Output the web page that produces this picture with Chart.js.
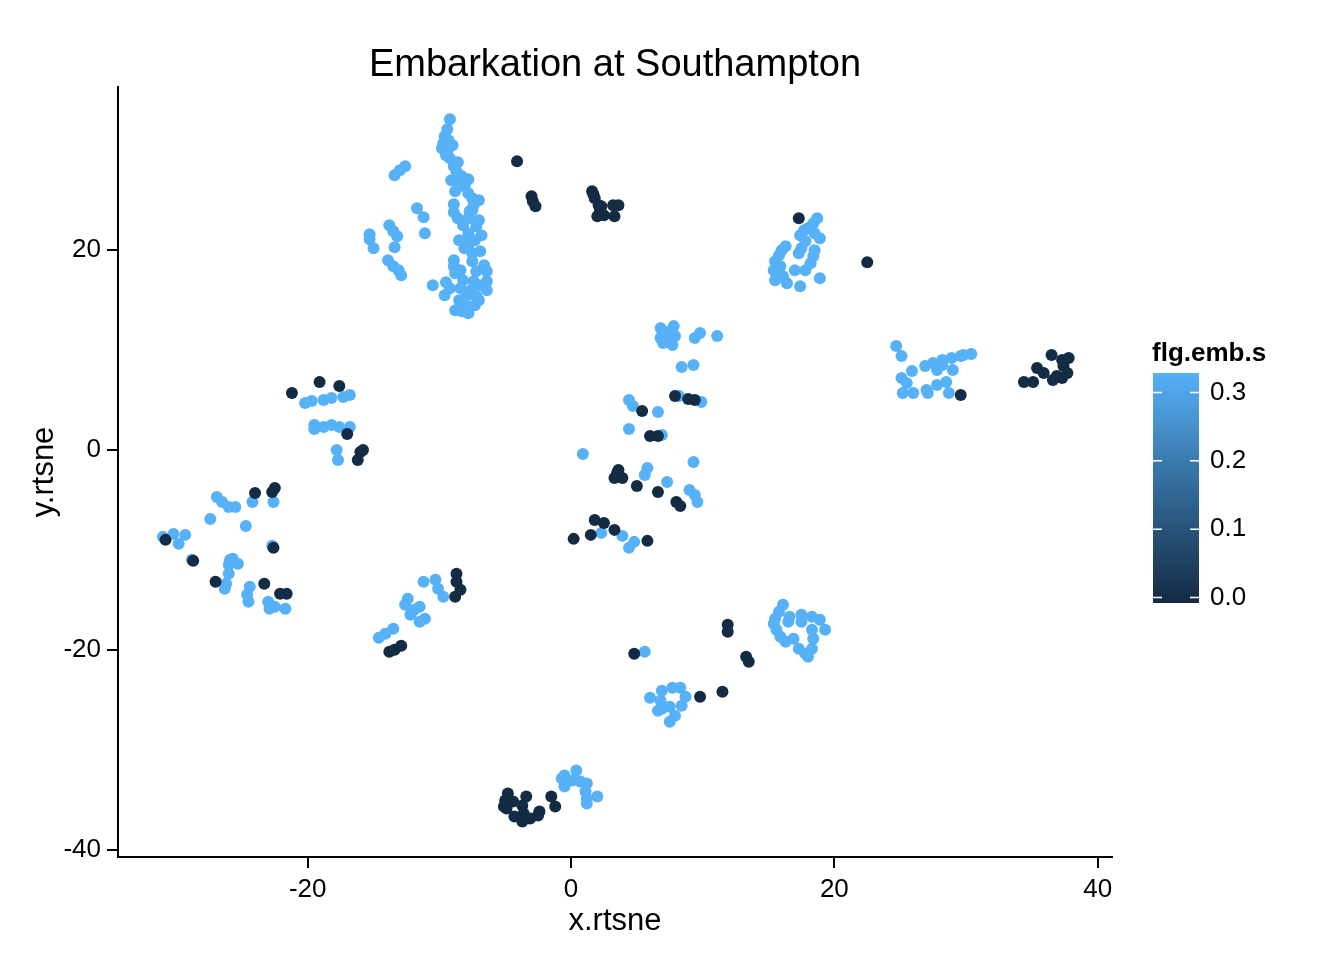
<!DOCTYPE html>
<html>
<head>
<meta charset="utf-8">
<title>Embarkation at Southampton</title>
<script src="https://cdn.jsdelivr.net/npm/chart.js@4.4.1/dist/chart.umd.min.js"></script>
<style>
  html, body { margin: 0; padding: 0; background: #fff; }
  #wrap { width: 1344px; height: 960px; }
</style>
</head>
<body>
<div id="wrap"><canvas id="tsne" width="1344" height="960"></canvas></div>
<script>
// --- Data ---

const titleText = "Embarkation at Southampton";
const xTitle = "x.rtsne";
const yTitle = "y.rtsne";
const legendTitle = "flg.emb.s";

const xTicks = [-20, 0, 20, 40];
const yTicks = [-40, -20, 0, 20];
const legendTicks = [0.0, 0.1, 0.2, 0.3];

// flg.emb.s for the two groups of points
const lowValue = 0.0;
const highValue = 0.33;

// points with flg.emb.s = high (light blue)
const lightPts = [
  [-9.2,33.1],[-9.4,32.1],[-9.6,31.4],[-9.7,30.7],[-9.4,29.9],[-9.2,29.2],[-8.9,28.4],[-8.7,27.9],
  [-8.3,27.4],[-7.8,27.1],[-8.1,26.4],[-8.8,25.9],[-7.8,25.7],[-7.5,25.2],[-7.4,24.5],[-7.7,23.9],
  [-7.8,23.2],[-8.2,22.5],[-7.2,22.4],[-7.8,21.7],[-7.7,20.9],[-8.1,20.2],[-6.9,19.9],[-7.5,19.7],
  [-7.5,18.9],[-8.9,19.0],[-8.9,18.4],[-8.8,17.7],[-7.2,17.9],[-6.4,17.9],[-8.2,17.0],[-7.4,16.9],
  [-6.4,16.9],[-6.4,16.0],[-9.2,16.2],[-9.6,15.5],[-8.4,16.2],[-7.9,15.5],[-7.2,15.4],[-8.1,14.7],
  [-7.3,14.5],[-8.8,14.0],[-7.8,13.7],[-9.0,30.5],[-9.3,31.0],[-8.6,28.8],[-8.0,26.8],[-7.5,24.0],
  [-7.3,21.0],[-7.8,20.5],[-6.9,16.5],[-7.6,16.0],[-8.5,15.0],[-9.8,30.2],[-9.5,29.5],
  [-6.8,21.5],[-7.0,23.0],[-8.5,21.0],[-6.6,18.5],[-8.4,18.0],[-9.5,16.8],[-7.0,15.0],[-8.3,13.9],
  [-8.6,23.2],[-7.0,25.0],[-8.5,26.5],[-9.1,27.0],
  [-8.9,24.6],[-8.9,23.8],[-11.1,21.7],[-11.7,24.2],[-11.2,23.3],[-12.6,28.4],[-13.0,28.0],[-13.4,27.5],
  [-13.8,22.5],[-13.5,21.9],[-13.2,21.4],[-13.4,20.3],[-15.3,21.6],[-15.3,21.1],[-15.0,20.2],
  [-13.9,19.0],[-13.5,18.4],[-13.1,18.0],[-12.9,17.5],[-10.5,16.5],
  [18.7,23.2],[18.4,22.7],[18.0,22.2],[17.7,22.0],[17.4,21.5],[18.5,21.7],[18.9,21.2],[17.8,20.9],
  [17.5,20.2],[17.3,19.7],[18.5,20.0],[18.4,19.4],[18.2,18.7],[17.8,18.0],[17.0,18.0],[16.0,20.0],
  [15.8,19.5],[15.5,18.9],[15.4,18.0],[15.5,17.0],[16.1,17.4],[16.4,16.7],[15.9,18.4],[17.4,16.4],
  [18.9,17.2],[16.3,20.4],[15.6,17.5],
  [24.7,10.4],[25.1,9.4],[25.9,7.9],[25.1,7.2],[25.5,6.7],[25.2,5.7],[26.0,5.7],[26.9,8.4],
  [27.5,8.7],[28.2,9.0],[28.9,9.2],[29.6,9.4],[30.4,9.6],[29.8,9.5],[27.8,8.0],[29.0,8.0],
  [27.0,6.0],[27.8,6.5],[28.5,6.8],[27.1,5.7],[28.7,5.7],[28.2,8.5],
  [-20.2,4.7],[-19.7,4.9],[-18.8,5.0],[-18.2,5.2],[-17.3,5.3],[-16.8,5.5],[-19.5,2.5],[-19.5,2.1],
  [-18.8,2.3],[-18.2,2.5],[-17.6,2.3],[-16.8,2.3],[-17.8,0.0],[-17.7,-1.0],
  [-26.9,-4.7],[-26.5,-5.2],[-26.0,-5.7],[-25.5,-5.7],[-24.2,-5.2],[-22.6,-5.2],[-27.4,-6.9],[-24.7,-7.6],
  [-22.7,-9.6],[-31.0,-8.7],[-30.2,-8.4],[-29.3,-8.5],[-29.8,-9.4],[-28.8,-11.0],[-25.7,-10.9],[-25.3,-11.4],
  [-26.0,-11.5],[-26.0,-12.4],[-26.2,-13.4],[-26.3,-13.9],[-24.4,-13.7],[-24.6,-14.5],[-24.5,-15.2],
  [-23.0,-15.2],[-22.5,-15.7],[-21.7,-15.9],[-22.9,-15.9],[-25.9,-11.0],
  [-11.2,-13.2],[-10.3,-13.0],[-10.1,-13.9],[-9.7,-14.7],[-12.4,-14.9],[-12.6,-15.5],[-11.9,-16.0],
  [-11.5,-15.7],[-11.1,-16.9],[-11.5,-17.2],[-12.2,-16.5],[-13.5,-17.9],[-14.1,-18.4],[-14.6,-18.8],
  [6.8,12.2],[7.8,12.4],[6.8,11.2],[7.5,11.5],[7.0,10.7],[7.7,10.5],[7.9,11.4],[7.2,11.8],
  [9.4,11.2],[9.8,11.7],[11.1,11.4],[8.4,8.3],[9.3,8.5],[4.4,5.0],[4.7,4.4],[8.2,5.4],
  [9.9,4.8],[6.6,3.8],[4.4,2.1],[6.9,1.5],[0.9,-0.4],[9.3,-1.2],[5.8,-1.8],[5.6,-2.5],
  [7.3,-3.2],[9.0,-4.0],[9.4,-4.5],[9.6,-5.2],[2.3,-8.3],[3.9,-8.6],[4.8,-9.2],[4.4,-9.8],
  [5.6,-20.2],[6.0,-24.8],[6.9,-24.1],[7.7,-23.8],[8.3,-23.8],[8.7,-24.7],[8.4,-25.6],[6.8,-25.1],
  [6.9,-25.9],[7.5,-25.7],[7.9,-26.6],[7.5,-27.2],[6.6,-26.1],
  [16.1,-15.5],[15.8,-16.2],[15.5,-16.9],[15.4,-17.4],[15.6,-18.0],[15.9,-18.7],[16.3,-19.2],[16.5,-17.2],
  [16.9,-18.9],[17.3,-19.9],[17.8,-20.4],[18.0,-20.7],[18.3,-19.9],[18.4,-18.9],[18.3,-18.0],[17.5,-16.5],
  [17.5,-17.2],[18.3,-16.7],[18.9,-17.0],[19.3,-18.0],[16.6,-16.7],
  [-0.5,-32.6],[0.4,-32.1],[0.1,-33.1],[-0.5,-33.7],[0.7,-33.2],[1.2,-33.4],[1.1,-34.2],[1.2,-34.9],
  [1.2,-35.4],[2.0,-34.7],[-0.7,-32.9]
];

// points with flg.emb.s = 0 (dark navy)
const darkPts = [
  [-4.1,28.9],[-3.0,25.4],[-2.9,24.9],[-2.7,24.4],[1.6,25.9],[1.8,25.2],[2.1,24.5],[2.2,23.9],
  [2.0,23.4],[2.5,23.5],[3.2,24.5],[3.6,24.5],[3.3,23.4],[1.7,25.6],[2.3,24.4],
  [17.3,23.2],[22.5,18.8],
  [29.6,5.5],[34.4,6.8],[35.1,6.8],[35.4,8.2],[35.9,7.7],[36.5,9.5],[37.3,9.0],[37.8,9.2],
  [37.4,8.4],[37.7,7.7],[36.9,7.4],[36.6,7.0],[37.3,7.2],
  [-21.2,5.7],[-19.1,6.8],[-17.6,6.4],[-17.0,1.6],[-16.0,-0.2],[-16.2,-1.0],[-15.8,0.0],
  [-24.0,-4.3],[-22.5,-3.8],[-22.7,-4.2],[-30.8,-9.0],[-28.7,-11.1],[-27.0,-13.2],[-23.3,-13.4],
  [-22.1,-14.4],[-21.6,-14.4],[-22.6,-9.8],
  [-8.7,-12.4],[-8.7,-13.2],[-8.4,-14.0],[-8.8,-14.7],[-13.8,-20.2],[-13.4,-20.0],[-12.9,-19.6],
  [7.9,5.4],[8.9,5.1],[9.4,5.0],[5.4,3.9],[6.0,1.4],[6.6,1.4],[3.6,-2.0],[3.3,-2.8],
  [3.9,-2.8],[3.5,-2.3],[5.0,-3.6],[6.6,-4.2],[8.0,-5.2],[8.3,-5.6],[1.8,-7.0],[2.5,-7.3],
  [1.5,-8.5],[3.3,-8.0],[0.2,-8.9],[5.8,-9.1],
  [4.8,-20.4],[11.9,-17.5],[11.9,-18.2],[13.3,-20.7],[13.5,-21.2],[9.8,-24.7],[11.5,-24.2],
  [-4.8,-34.4],[-5.0,-35.1],[-4.9,-35.9],[-4.4,-35.2],[-3.7,-35.6],[-3.4,-34.7],[-3.6,-36.4],
  [-3.7,-37.2],[-3.1,-36.9],[-2.5,-36.6],[-2.4,-36.2],[-1.5,-34.7],[-1.2,-35.7],[-5.1,-35.7],[-4.3,-36.7]
];

// --- Styling ---

const FONT = '"Liberation Sans", Arial, sans-serif';
const LOW_COLOR = "#132B43";
const MID_COLOR = "#336A98";
const HIGH_COLOR = "#56B1F7";

function embColor(v) { return v >= highValue ? HIGH_COLOR : LOW_COLOR; }
function toXY(list) { return list.map(p => ({ x: p[0], y: p[1] })); }

// title, axis titles and colour bar are drawn by hand, ggplot style
const decorations = {
  id: "decorations",
  afterDraw(chart) {
    const ctx = chart.ctx;
    const a = chart.chartArea;
    const cx = (a.left + a.right) / 2;
    const cy = (a.top + a.bottom) / 2;

    ctx.save();
    ctx.fillStyle = "#000";
    ctx.textAlign = "center";
    ctx.textBaseline = "alphabetic";

    ctx.font = `38px ${FONT}`;
    ctx.fillText(titleText, cx, 76);

    ctx.font = `31px ${FONT}`;
    ctx.fillText(xTitle, cx, 930);

    ctx.save();
    ctx.translate(53, cy);
    ctx.rotate(-Math.PI / 2);
    ctx.fillText(yTitle, 0, 0);
    ctx.restore();

    // colour bar
    const bx = 1153, by = 373, bw = 46, bh = 230;
    const tick0 = 597.5, perUnit = 683.3;
    const grad = ctx.createLinearGradient(0, by + bh, 0, by);
    grad.addColorStop(0, LOW_COLOR);
    grad.addColorStop(0.5, MID_COLOR);
    grad.addColorStop(1, HIGH_COLOR);
    ctx.fillStyle = grad;
    ctx.fillRect(bx, by, bw, bh);

    ctx.strokeStyle = "#fff";
    ctx.lineWidth = 1.5;
    ctx.fillStyle = "#000";
    ctx.font = `26px ${FONT}`;
    ctx.textAlign = "left";
    ctx.textBaseline = "middle";
    legendTicks.forEach(v => {
      const ty = tick0 - v * perUnit;
      ctx.beginPath();
      ctx.moveTo(bx, ty); ctx.lineTo(bx + 9, ty);
      ctx.moveTo(bx + bw - 9, ty); ctx.lineTo(bx + bw, ty);
      ctx.stroke();
      ctx.fillText(v.toFixed(1), 1210, ty);
    });

    ctx.font = `bold 26px ${FONT}`;
    ctx.textBaseline = "alphabetic";
    ctx.fillText(legendTitle, 1152, 361);
    ctx.restore();
  }
};

const axisStyle = {
  grid: { display: true, drawOnChartArea: false, drawTicks: true, tickLength: 11, color: "#000", lineWidth: 2 },
  border: { display: true, color: "#000", width: 2 },
  ticks: { color: "#000", font: { family: FONT, size: 26 }, padding: 6 }
};

new Chart(document.getElementById("tsne"), {
  type: "scatter",
  data: {
    datasets: [
      { label: "0.0", data: toXY(darkPts), backgroundColor: embColor(lowValue), pointRadius: 6, borderWidth: 0 },
      { label: "0.33", data: toXY(lightPts), backgroundColor: embColor(highValue), pointRadius: 6, borderWidth: 0 }
    ]
  },
  options: {
    responsive: false,
    animation: false,
    devicePixelRatio: 1,
    events: [],
    layout: { padding: { top: 87, right: 232, left: 0, bottom: 0 } },
    plugins: { legend: { display: false }, tooltip: { enabled: false }, title: { display: false } },
    scales: {
      x: {
        type: "linear", min: -34.41, max: 41.09, ...axisStyle,
        afterBuildTicks: s => { s.ticks = xTicks.map(v => ({ value: v })); },
        afterFit: s => { s.height = 103; }
      },
      y: {
        type: "linear", min: -40.75, max: 36.34, ...axisStyle,
        afterBuildTicks: s => { s.ticks = yTicks.map(v => ({ value: v })); },
        afterFit: s => { s.width = 118; }
      }
    }
  },
  plugins: [decorations]
});
</script>
</body>
</html>
